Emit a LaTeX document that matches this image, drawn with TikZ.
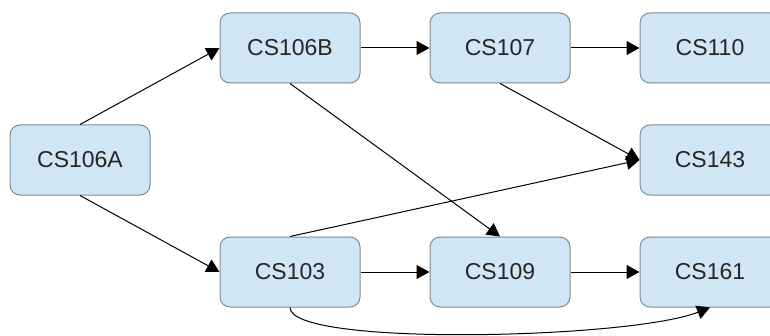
\documentclass[tikz,border=0pt]{standalone}
\usepackage{fontspec}
\setmainfont{Liberation Sans}
\usepackage{xcolor}
\usepackage{tikz}
\usetikzlibrary{arrows.meta,positioning}
\definecolor{boxfill}{HTML}{D0E6F4}
\definecolor{boxline}{HTML}{7F8C96}
\definecolor{boxtext}{HTML}{262626}
\tikzset{
  course/.style={draw=boxline,line width=1pt,fill=boxfill,rounded corners=10pt,minimum width=140pt,minimum height=70pt,
    inner sep=0pt,text=boxtext,font=\fontsize{23}{28}\selectfont},
  arr/.style={-{Triangle[length=13pt,width=14pt]},line width=1pt},
}
\begin{document}
\begin{tikzpicture}[x=1pt,y=1pt]
\useasboundingbox (0,0) rectangle (770,335);
\clip (0,0) rectangle (770,335);
% courses, one column every 210pt
\node[course] (c106a) at (80,175) {CS106A};
\node[course] (c106b) at (290,287) {CS106B};
\node[course] (c107) at (500,287) {CS107};
\node[course] (c110) at (710,287) {CS110};
\node[course] (c143) at (710,175) {CS143};
\node[course] (c103) at (290,63) {CS103};
\node[course] (c109) at (500,63) {CS109};
\node[course] (c161) at (710,63) {CS161};
% prerequisites
\draw[arr] (c106a.north) -- (c106b.west);
\draw[arr] (c106a.south) -- (c103.west);
\draw[arr] (c106b) -- (c107);
\draw[arr] (c107) -- (c110);
\draw[arr] (c106b.south) -- (c109.north);
\draw[arr] (c107.south) -- (c143.west);
\draw[arr] (c103.north) -- (c143.west);
\draw[arr] (c103) -- (c109);
\draw[arr] (c109) -- (c161);
\draw[arr] (c103.south) .. controls (290,-12) and (630,-4) .. (c161.south);
\end{tikzpicture}
\end{document}
